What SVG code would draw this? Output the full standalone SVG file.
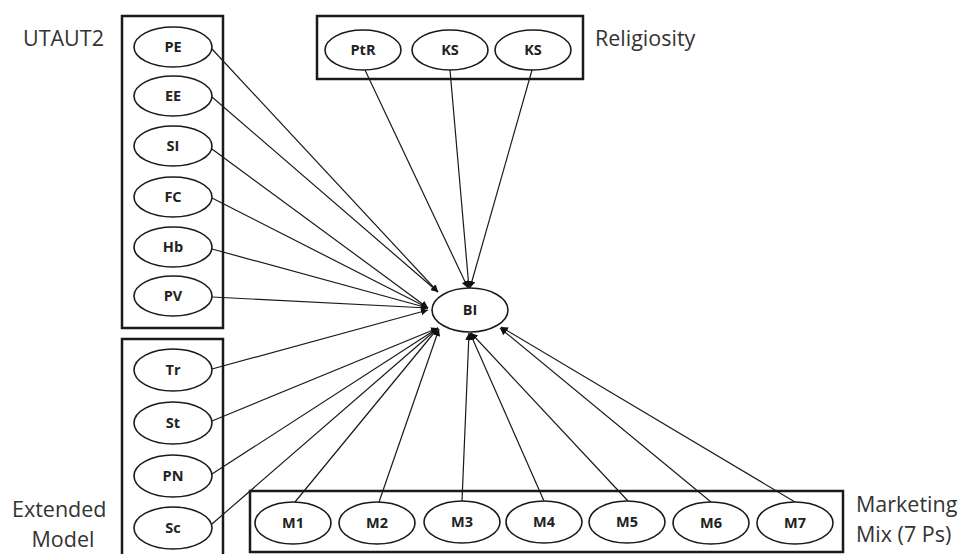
<svg xmlns="http://www.w3.org/2000/svg" width="966" height="554" viewBox="0 0 966 554">
<style>
.box{fill:none;stroke:#1a1a1a;stroke-width:2.5}
.nd ellipse{fill:#fff;stroke:#1a1a1a;stroke-width:1.6}
.nd text{font-family:"Open Sans","Liberation Sans",sans-serif;font-weight:bold;font-size:14.5px;fill:#222;text-anchor:middle}
.lab{font-family:"Open Sans","Liberation Sans",sans-serif;font-size:21.5px;fill:#333}
.cn line{stroke:#1a1a1a;stroke-width:1.2;marker-end:url(#ah)}
</style>
<defs>
<marker id="ah" viewBox="0 0 10 10" refX="10" refY="5" markerWidth="7" markerHeight="7" markerUnits="userSpaceOnUse" orient="auto">
<path d="M0,0 L10,5 L0,10 z" fill="#111"/>
</marker>
</defs>
<rect width="966" height="554" fill="#fff"/>
<g id="groups">
<rect class="box" x="122" y="16" width="101" height="312"/>
<rect class="box" x="122" y="339" width="101" height="220"/>
<rect class="box" x="317" y="16" width="266" height="63"/>
<rect class="box" x="250" y="491" width="593" height="61"/>
</g>
<g id="labels">
<text class="lab" x="23" y="46">UTAUT2</text>
<text class="lab" x="595" y="46">Religiosity</text>
<text class="lab" x="12" y="517">Extended</text>
<text class="lab" x="63" y="547" text-anchor="middle">Model</text>
<text class="lab" x="856" y="512">Marketing</text>
<text class="lab" x="856" y="542">Mix (7 Ps)</text>
</g>
<g id="connectors" class="cn">
<line x1="212" y1="49" x2="438" y2="292"/>
<line x1="212" y1="97" x2="438" y2="292"/>
<line x1="212" y1="149" x2="428" y2="308"/>
<line x1="212" y1="198" x2="428" y2="308"/>
<line x1="212" y1="249" x2="428" y2="308"/>
<line x1="212" y1="297" x2="428" y2="308"/>
<line x1="212" y1="369" x2="428" y2="310"/>
<line x1="212" y1="421" x2="438" y2="328"/>
<line x1="212" y1="474" x2="438" y2="328"/>
<line x1="212" y1="524" x2="438" y2="328"/>
<line x1="365" y1="70" x2="468" y2="288"/>
<line x1="450" y1="70" x2="469" y2="288"/>
<line x1="532" y1="70" x2="470" y2="288"/>
<line x1="295" y1="502" x2="438" y2="328"/>
<line x1="379" y1="502" x2="439" y2="329"/>
<line x1="462" y1="501" x2="469" y2="333"/>
<line x1="544" y1="501" x2="470" y2="333"/>
<line x1="628" y1="501" x2="471" y2="333"/>
<line x1="711" y1="502" x2="500" y2="328"/>
<line x1="795" y1="502" x2="501" y2="327"/>
</g>
<g id="PE" class="nd"><ellipse cx="173" cy="47" rx="39" ry="20"/><text x="173" y="52">PE</text></g>
<g id="EE" class="nd"><ellipse cx="173" cy="96" rx="39" ry="20"/><text x="173" y="101">EE</text></g>
<g id="SI" class="nd"><ellipse cx="173" cy="146" rx="39" ry="20"/><text x="173" y="151">SI</text></g>
<g id="FC" class="nd"><ellipse cx="173" cy="197" rx="39" ry="20"/><text x="173" y="202">FC</text></g>
<g id="Hb" class="nd"><ellipse cx="173" cy="247" rx="39" ry="20"/><text x="173" y="252">Hb</text></g>
<g id="PV" class="nd"><ellipse cx="173" cy="296" rx="39" ry="20"/><text x="173" y="301">PV</text></g>
<g id="Tr" class="nd"><ellipse cx="173" cy="370" rx="39" ry="21"/><text x="173" y="375">Tr</text></g>
<g id="St" class="nd"><ellipse cx="173" cy="423" rx="39" ry="21"/><text x="173" y="428">St</text></g>
<g id="PN" class="nd"><ellipse cx="173" cy="476" rx="39" ry="21"/><text x="173" y="481">PN</text></g>
<g id="Sc" class="nd"><ellipse cx="173" cy="528" rx="39" ry="21"/><text x="173" y="533">Sc</text></g>
<g id="PtR" class="nd"><ellipse cx="363" cy="50" rx="38" ry="20"/><text x="363" y="55">PtR</text></g>
<g id="KS1" class="nd"><ellipse cx="450" cy="50" rx="38" ry="20"/><text x="450" y="55">KS</text></g>
<g id="KS2" class="nd"><ellipse cx="533" cy="50" rx="38" ry="20"/><text x="533" y="55">KS</text></g>
<g id="BI" class="nd"><ellipse cx="470" cy="310" rx="38" ry="22"/><text x="470" y="315">BI</text></g>
<g id="M1" class="nd"><ellipse cx="293" cy="523" rx="38" ry="21"/><text x="293" y="528">M1</text></g>
<g id="M2" class="nd"><ellipse cx="377" cy="523" rx="38" ry="21"/><text x="377" y="528">M2</text></g>
<g id="M3" class="nd"><ellipse cx="462" cy="522" rx="38" ry="21"/><text x="462" y="527">M3</text></g>
<g id="M4" class="nd"><ellipse cx="544" cy="522" rx="38" ry="21"/><text x="544" y="527">M4</text></g>
<g id="M5" class="nd"><ellipse cx="627" cy="522" rx="38" ry="21"/><text x="627" y="527">M5</text></g>
<g id="M6" class="nd"><ellipse cx="711" cy="523" rx="38" ry="21"/><text x="711" y="528">M6</text></g>
<g id="M7" class="nd"><ellipse cx="795" cy="523" rx="38" ry="21"/><text x="795" y="528">M7</text></g>
</svg>
